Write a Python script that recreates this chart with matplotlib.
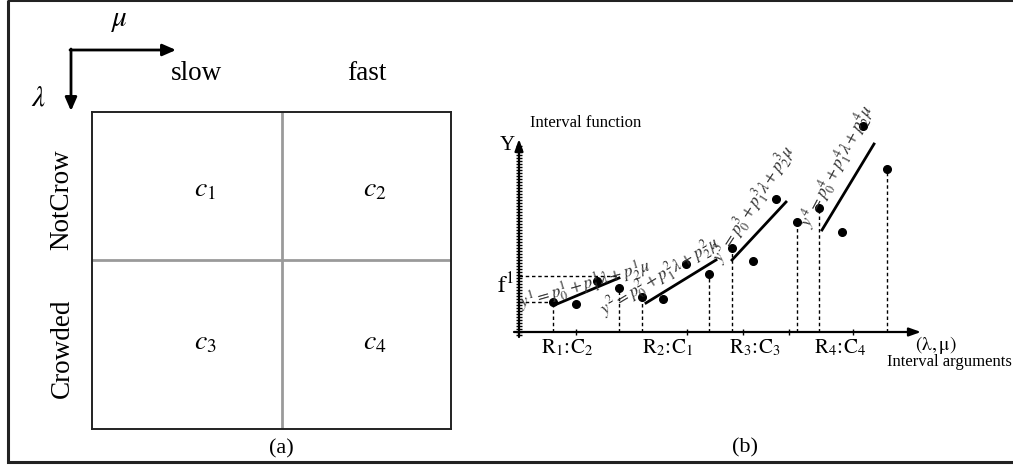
import numpy as np
import matplotlib
matplotlib.use("Agg")
import matplotlib.pyplot as plt
from matplotlib.patches import Rectangle

plt.rcParams["font.family"] = ["Liberation Serif", "DejaVu Serif"]
plt.rcParams["mathtext.fontset"] = "stix"

# ---- panel (a): 2x2 classification of (lambda, mu) ----
col_labels = ["slow", "fast"]
row_labels = ["NotCrow", "Crowded"]
cell_labels = [[r"$c_1$", r"$c_2$"], [r"$c_3$", r"$c_4$"]]

# ---- panel (b): piecewise interval regressions ----
seg_names = [r"$\mathrm{R}_1\!:\!\mathrm{C}_2$", r"$\mathrm{R}_2\!:\!\mathrm{C}_1$",
             r"$\mathrm{R}_3\!:\!\mathrm{C}_3$", r"$\mathrm{R}_4\!:\!\mathrm{C}_4$"]
pts_x = [[3.4, 5.7, 7.8, 10.0],
         [12.3, 14.4, 16.7, 19.0],
         [21.3, 23.4, 25.7, 27.8],
         [30.0, 32.3, 34.4, 36.8]]
pts_y = [[3.0, 2.8, 5.1, 4.4],
         [3.5, 3.3, 6.8, 5.8],
         [8.4, 7.1, 13.3, 11.0],
         [12.4, 10.0, 20.6, 16.3]]
fit_x = [[3.8, 10.0], [12.7, 19.7], [21.3, 26.7], [30.3, 35.5]]
fit_y = [[2.8, 5.4], [2.9, 7.2], [7.2, 13.0], [10.2, 18.8]]
f1_level = 5.6

W, H = 1013, 465
fig = plt.figure(figsize=(W / 100, H / 100), dpi=100)

canvas = fig.add_axes([0, 0, 1, 1])
canvas.set_xlim(0, W)
canvas.set_ylim(H, 0)
canvas.axis("off")

# outer frame
canvas.add_patch(Rectangle((8, 0), 1030, 462, fill=False, ec="#222222", lw=2.2,
                           clip_on=False))

# direction arrows for mu (right) and lambda (down)
arr = dict(arrowstyle="-|>,head_length=0.8,head_width=0.35", color="black", lw=2,
           shrinkA=0, shrinkB=0)
canvas.annotate("", xy=(176, 50), xytext=(70, 50), arrowprops=arr)
canvas.annotate("", xy=(71, 111), xytext=(71, 49), arrowprops=arr)
canvas.text(120, 21, r"$\mu$", fontsize=21, ha="center", va="center")
canvas.text(38, 98, r"$\lambda$", fontsize=21, ha="center", va="center")

# panel (a) grid
box_l, box_t, box_w, box_h = 92, 112, 359, 317
axa = fig.add_axes([box_l / W, 1 - (box_t + box_h) / H, box_w / W, box_h / H])
axa.set_xlim(0, box_w)
axa.set_ylim(box_h, 0)
axa.set_xticks([])
axa.set_yticks([])
for s in axa.spines.values():
    s.set_color("#222222")
    s.set_linewidth(1.4)
div_x, div_y = 190, 148
axa.axvline(div_x, color="#9a9a9a", lw=2)
axa.axhline(div_y, color="#9a9a9a", lw=2)

col_cx = [113, 283]
row_cy = [78, 231]
for i in range(2):
    for j in range(2):
        axa.text(col_cx[j], row_cy[i], cell_labels[i][j], fontsize=20,
                 ha="center", va="center")

canvas.text(197, 73, col_labels[0], fontsize=19.5, ha="center", va="center")
canvas.text(367, 73, col_labels[1], fontsize=19.5, ha="center", va="center")
canvas.text(62, 200, row_labels[0], fontsize=19.5, ha="center", va="center",
            rotation=90)
canvas.text(62, 348, row_labels[1], fontsize=19.5, ha="center", va="center",
            rotation=90)
canvas.text(281, 449, "(a)", fontsize=16, ha="center", va="center")
canvas.text(745, 448, "(b)", fontsize=16, ha="center", va="center")

# panel (b)
axb = fig.add_axes([509 / W, (H - 380) / H, 504 / W, 280 / H])
axb.set_xlim(-1.0, 49.4)
axb.set_ylim(-4.8, 23.2)
axb.axis("off")

ax_arr = dict(arrowstyle="-|>,head_length=0.7,head_width=0.25", color="black",
              lw=1.6, shrinkA=0, shrinkB=0)
axb.annotate("", xy=(0, 19.3), xytext=(0, -0.5), arrowprops=ax_arr)
axb.annotate("", xy=(40.2, 0), xytext=(-0.5, 0), arrowprops=ax_arr)
# ruler ticks on the Y axis
ry = np.arange(-0.3, 18.6, 0.3)
axb.plot(np.zeros_like(ry), ry, ls="none", marker="_", ms=4, mew=1, color="black")
# small ticks on the argument axis
axb.plot([5.7, 16.8, 22.4, 33.4, 27.0], [0] * 5, ls="none", marker="|", ms=4,
         mew=1, color="black")

axb.text(1.1, 20.9, "Interval function", fontsize=12, ha="left", va="center")
axb.text(-1.2, 18.6, "Y", fontsize=15, ha="center", va="center")
axb.text(-1.4, 4.6, r"$\mathrm{f}^{1}$", fontsize=17, ha="center", va="center")

# dotted guide box for f^1
dash = dict(color="black", lw=1, ls=(0, (2.5, 2)))
axb.plot([0, fit_x[0][1]], [f1_level, f1_level], **dash)
axb.plot([0, pts_x[0][0]], [pts_y[0][0], pts_y[0][0]], **dash)

eq_anchor = [(0.2, 2.4), (8.5, 1.6), (20.2, 6.8), (29.0, 10.3)]
eq_rot = [16, 31, 57, 62]
for k in range(4):
    xs, ys = pts_x[k], pts_y[k]
    for xv, yv in ((xs[0], ys[0]), (xs[-1], ys[-1])):
        axb.plot([xv, xv], [0, yv], **dash)
    axb.plot(xs, ys, ls="none", marker="o", ms=5.5, color="black")
    axb.plot(fit_x[k], fit_y[k], color="black", lw=2)
    n = k + 1
    eq = rf"$y^{n} = p_0^{n} + p_1^{n}\lambda + p_2^{n}\mu$"
    axb.text(eq_anchor[k][0], eq_anchor[k][1], eq, fontsize=12.5, color="#333333",
             rotation=eq_rot[k], rotation_mode="anchor", ha="left", va="baseline")

lab_x = [4.8, 14.9, 23.6, 32.1]
for k in range(4):
    axb.text(lab_x[k], -1.6, seg_names[k], fontsize=15, ha="center", va="center")

axb.text(41.7, -1.3, r"$(\mathrm{\lambda},\mathrm{\mu})$", fontsize=14,
         ha="center", va="center")
axb.text(36.8, -3.0, "Interval arguments", fontsize=12, ha="left", va="center")

fig.savefig("out.png", dpi=100)
